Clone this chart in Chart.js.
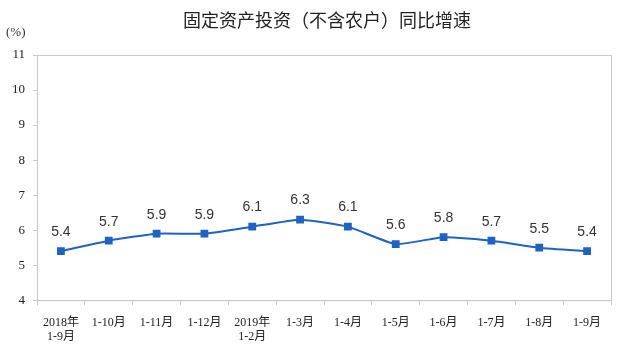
<!DOCTYPE html>
<html>
<head>
<meta charset="utf-8">
<script src="https://cdn.jsdelivr.net/npm/chart.js@4/dist/chart.umd.min.js"></script>
<style>
  html, body { margin: 0; padding: 0; background: #fff; }
  #wrap { width: 631px; height: 359px; position: relative; }
</style>
</head>
<body>
<div id="wrap"><canvas id="chart"></canvas></div>
<script>
const chartTitle = '固定资产投资（不含农户）同比增速';
const categories = [
  ['2018年', '1-9月'], '1-10月', '1-11月', '1-12月', ['2019年', '1-2月'],
  '1-3月', '1-4月', '1-5月', '1-6月', '1-7月', '1-8月', '1-9月'
];
const growth = [5.4, 5.7, 5.9, 5.9, 6.1, 6.3, 6.1, 5.6, 5.8, 5.7, 5.5, 5.4];
const yTicks = [4, 5, 6, 7, 8, 9, 10, 11];

const serif = "'Liberation Serif', 'Noto Sans CJK SC', serif";

// frame round the plot area, title (sits off-centre in the original) and the (%) unit
const framePlugin = {
  id: 'frame',
  beforeDatasetsDraw(chart) {
    const { ctx, chartArea: a } = chart;
    ctx.save();
    ctx.strokeStyle = '#c8c8c8';
    ctx.lineWidth = 1;
    ctx.strokeRect(a.left + 0.5, a.top + 0.5, a.right - a.left, a.bottom - a.top);
    ctx.restore();
  },
  afterDraw(chart) {
    const { ctx } = chart;
    ctx.save();
    ctx.fillStyle = '#222';
    ctx.font = "18px 'Noto Sans CJK SC', sans-serif";
    ctx.textAlign = 'center';
    ctx.textBaseline = 'middle';
    ctx.fillText(chartTitle, 327, 20);
    ctx.fillStyle = '#333';
    ctx.font = "13px " + serif;
    ctx.textAlign = 'left';
    ctx.fillText('(%)', 6, 33);
    ctx.restore();
  }
};

// value labels above each point
const labelPlugin = {
  id: 'valueLabels',
  afterDatasetsDraw(chart) {
    const { ctx } = chart;
    const meta = chart.getDatasetMeta(0);
    ctx.save();
    ctx.fillStyle = '#333';
    ctx.font = "14px 'Liberation Sans', Arial, sans-serif";
    ctx.textAlign = 'center';
    ctx.textBaseline = 'bottom';
    meta.data.forEach((pt, i) => {
      ctx.fillText(growth[i].toFixed(1), pt.x, pt.y - 12);
    });
    ctx.restore();
  }
};

new Chart(document.getElementById('chart'), {
  type: 'line',
  data: {
    labels: categories,
    datasets: [{
      data: growth,
      borderColor: '#1e62c4',
      backgroundColor: '#1e62c4',
      borderWidth: 2,
      tension: 0.15,
      pointStyle: 'rect',
      pointRadius: 5.5,
      pointBorderWidth: 0
    }]
  },
  options: {
    responsive: true,
    maintainAspectRatio: false,
    animation: false,
    layout: { padding: { left: 4, right: 20, top: 55, bottom: 5 } },
    plugins: {
      legend: { display: false },
      tooltip: { enabled: false },
      title: { display: false }
    },
    scales: {
      x: {
        offset: true,
        grid: { offset: true, drawOnChartArea: false, drawTicks: true, tickLength: 5, color: '#c8c8c8' },
        border: { color: '#c8c8c8' },
        ticks: {
          color: '#222',
          font: { family: serif, size: 12 },
          maxRotation: 0,
          autoSkip: false,
          padding: 10
        }
      },
      y: {
        min: 4,
        max: 11,
        afterBuildTicks(scale) { scale.ticks = yTicks.map(v => ({ value: v })); },
        grid: { drawOnChartArea: false, drawTicks: true, tickLength: 4, color: '#c8c8c8' },
        border: { color: '#c8c8c8' },
        ticks: {
          color: '#222',
          font: { family: serif, size: 13 },
          padding: 8
        }
      }
    }
  },
  plugins: [framePlugin, labelPlugin]
});
</script>
</body>
</html>
